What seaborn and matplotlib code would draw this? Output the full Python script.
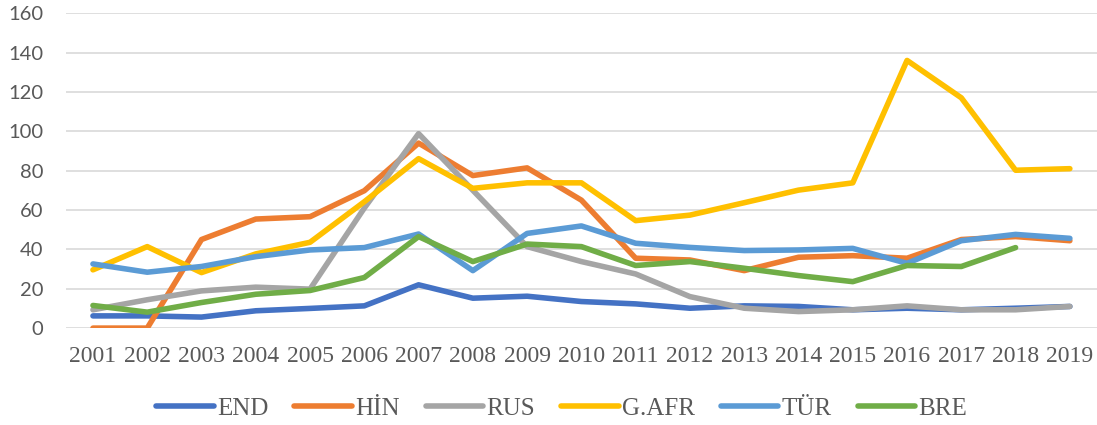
import matplotlib
matplotlib.use('Agg')
import matplotlib.pyplot as plt
from matplotlib import font_manager as fm
import numpy as np
import pandas as pd
import seaborn as sns

years = list(range(2001, 2020))
end = [6.2, 6.2, 5.6, 8.8, 10, 11.3, 22, 15.2, 16.2, 13.5, 12.3, 10.1, 11.3, 11, 9.3, 10.1, 9.3, 10.1, 11]
hin = [0, 0, 45, 55.4, 56.6, 69.8, 94, 77.5, 81.4, 65, 35.5, 34.6, 29.2, 36, 36.8, 35.5, 45, 46.5, 44.4]
rus = [9.3, 14.4, 18.9, 20.8, 19.8, 61, 98.8, 70, 41.4, 33.8, 27.5, 16, 10.1, 8.4, 9.3, 11.3, 9.3, 9.3, 11]
gafr = [29.6, 41.4, 28.2, 37.7, 43.6, 64.2, 86.1, 71, 73.8, 73.8, 54.6, 57.4, 63.7, 70.1, 73.8, 136, 117, 80.2, 81]
tur = [32.6, 28.4, 31.3, 36.3, 39.7, 40.9, 47.8, 29.2, 48.1, 51.9, 43.1, 41, 39.4, 39.7, 40.5, 32.9, 44.4, 47.6, 45.6]
bre = [11.5, 8.1, 13, 17.2, 19.1, 25.7, 46.5, 33.8, 42.7, 41.4, 31.8, 33.8, 30.4, 26.7, 23.6, 31.8, 31.3, 40.9, np.nan]

series_names = ['END', 'HİN', 'RUS', 'G.AFR', 'TÜR', 'BRE']
series_values = [end, hin, rus, gafr, tur, bre]
colors = ['#4472C4', '#ED7D31', '#A5A5A5', '#FFC000', '#5B9BD5', '#70AD47']

df = pd.concat([pd.DataFrame({'year': years, 'value': v, 'country': n})
                for n, v in zip(series_names, series_values)])
df = df.dropna()  # BRE has no 2019 value

sns.set_style('white')
plt.rcParams['font.family'] = ['Liberation Serif', 'DejaVu Serif']

# resolve the font files up front so the tick labels and legend use them directly
serif_path = fm.findfont(fm.FontProperties(family='Liberation Serif'))
sans_path = fm.findfont(fm.FontProperties(family='Lato'))
xtick_fp = fm.FontProperties(fname=serif_path, size=17)
ytick_fp = fm.FontProperties(fname=sans_path, size=14.5)
legend_fp = fm.FontProperties(fname=serif_path, size=18)

fig = plt.figure(figsize=(10.97, 4.25), dpi=100)
ax = fig.add_axes([0.060, 0.228, 0.940, 0.741])

sns.lineplot(data=df, x='year', y='value', hue='country', hue_order=series_names,
             palette=colors, estimator=None, errorbar=None, linewidth=4,
             solid_capstyle='round', solid_joinstyle='round', ax=ax, legend=True)

ax.set_xlim(2000.5, 2019.5)
ax.set_ylim(0, 160)
ax.set_yticks(range(0, 161, 20))
ax.set_xticks(years)
ax.set_xticklabels([str(y) for y in years], fontproperties=xtick_fp)
ax.set_yticklabels([str(v) for v in range(0, 161, 20)], fontproperties=ytick_fp)
ax.yaxis.grid(True, color='#D9D9D9', linewidth=1.2)
ax.set_axisbelow(True)
for s in ax.spines.values():
    s.set_visible(False)
ax.set_xlabel('')
ax.set_ylabel('')
ax.tick_params(axis='x', length=0, pad=13, labelcolor='#595959')
ax.tick_params(axis='y', length=0, pad=16, labelcolor='#595959')

handles, labels = ax.get_legend_handles_labels()
ax.get_legend().remove()
fig.legend(handles, labels, loc='center', bbox_to_anchor=(0.512, 0.038), ncol=6,
           frameon=False, prop=legend_fp,
           handlelength=2.3, handletextpad=0.12, columnspacing=1.05,
           labelcolor='#595959')

fig.savefig('out.png', dpi=100)
